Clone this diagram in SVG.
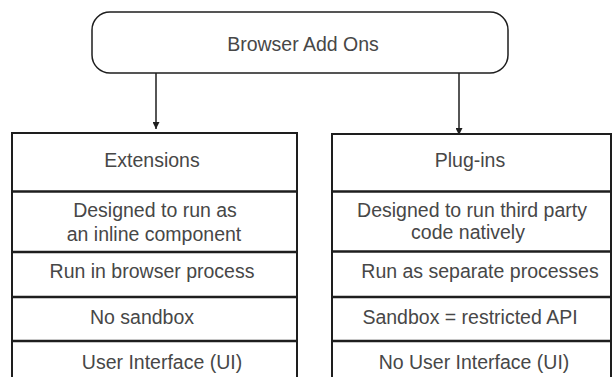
<svg xmlns="http://www.w3.org/2000/svg" width="613" height="377" viewBox="0 0 613 377">
<style>
text{font-family:"Liberation Sans",Arial,sans-serif;font-size:19.5px;fill:#474747;text-anchor:middle}
.box{fill:#fff;stroke:#1e1e1e;stroke-width:2}
.sep{stroke:#1e1e1e;stroke-width:2.5}
.conn{stroke:#1e1e1e;stroke-width:1.5;fill:none}
</style>
<defs>
<marker id="arr" viewBox="0 0 10 10" refX="10" refY="5" markerWidth="7" markerHeight="7" markerUnits="userSpaceOnUse" orient="auto">
<path d="M0,0 L10,5 L0,10 z" fill="#1e1e1e"/>
</marker>
</defs>
<rect width="613" height="377" fill="#fff"/>
<g id="connectors">
<line class="conn" x1="156" y1="73" x2="156" y2="129" marker-end="url(#arr)"/>
<line class="conn" x1="459" y1="73" x2="459" y2="135" marker-end="url(#arr)"/>
</g>
<g id="browser-add-ons">
<rect x="92" y="12" width="416" height="61" rx="18" ry="18" fill="#fff" stroke="#1e1e1e" stroke-width="1.5"/>
<text x="303" y="51">Browser Add Ons</text>
</g>
<g id="extensions">
<rect class="box" x="12" y="133" width="285" height="250"/>
<line class="sep" x1="12" y1="191.5" x2="297" y2="191.5"/>
<line class="sep" x1="12" y1="252" x2="297" y2="252"/>
<line class="sep" x1="12" y1="297" x2="297" y2="297"/>
<line class="sep" x1="12" y1="341" x2="297" y2="341"/>
<text x="152" y="167">Extensions</text>
<text x="155" y="217">Designed to run as</text>
<text x="154" y="241">an inline component</text>
<text x="152" y="278">Run in browser process</text>
<text x="142" y="324">No sandbox</text>
<text x="162" y="369">User Interface (UI)</text>
</g>
<g id="plug-ins">
<rect class="box" x="332" y="134" width="279" height="250"/>
<line class="sep" x1="332" y1="191.5" x2="611" y2="191.5"/>
<line class="sep" x1="332" y1="251.5" x2="611" y2="251.5"/>
<line class="sep" x1="332" y1="297" x2="611" y2="297"/>
<line class="sep" x1="332" y1="341" x2="611" y2="341"/>
<text x="470" y="167">Plug-ins</text>
<text x="472" y="217">Designed to run third party</text>
<text x="468" y="239">code natively</text>
<text x="480" y="278">Run as separate processes</text>
<text x="470" y="324">Sandbox = restricted API</text>
<text x="474" y="369">No User Interface (UI)</text>
</g>
</svg>
